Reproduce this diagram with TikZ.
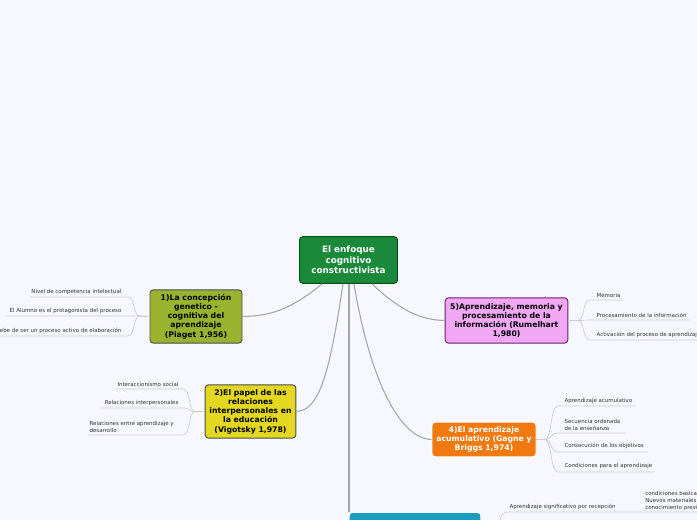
\documentclass[tikz,border=0pt]{standalone}
\usepackage{fontspec}
\setmainfont{DejaVu Sans}
\begin{document}
\begin{tikzpicture}[x=0.75pt,y=-0.75pt,
  mainbox/.style={rounded corners=2.5pt,draw=#1!60!black,line width=0.7pt,align=center,font=\bfseries\fontsize{5.8}{6.9}\selectfont,inner sep=2pt,anchor=center},
  leaf/.style={font=\fontsize{4.1}{5.2}\selectfont,text=black!80,inner sep=1pt,align=left},
  conn/.style={draw=black!35,line width=0.8pt},
  lconn/.style={draw=black!20,line width=0.5pt}]
\clip (0,0) rectangle (697,520);
\fill[blue!3!white] (0,0) rectangle (697,520);
% central
\node[mainbox=green!50!black,fill={rgb,255:red,26;green,138;blue,58},text=white,minimum width=73.5pt,minimum height=35pt,font=\bfseries\fontsize{6.6}{7.8}\selectfont] (c) at (348.5,260) {El enfoque\\cognitivo\\constructivista};
\node[mainbox=black,fill={rgb,255:red,155;green,178;blue,46},minimum width=69pt,minimum height=40pt,draw=black!70] (n1) at (196,316.5) {1)La concepción\\genetico -\\cognitiva del\\aprendizaje\\(Piaget 1,956)};
\node[mainbox=black,fill={rgb,255:red,227;green,216;blue,31},minimum width=68pt,minimum height=40pt,draw=black!70] (n2) at (250.5,411.5) {2)El papel de las\\relaciones\\interpersonales en\\la educación\\(Vigotsky 1,978)};
\node[mainbox=black,fill={rgb,255:red,240;green,168;blue,245},minimum width=92pt,minimum height=34pt,draw={rgb,255:red,110;green,30;blue,110}] (n5) at (506.5,320.5) {5)Aprendizaje, memoria y\\procesamiento de la\\información (Rumelhart\\1,980)};
\node[mainbox=black,fill={rgb,255:red,240;green,122;blue,16},text=white,minimum width=78pt,minimum height=26pt,draw=white] (n4) at (484,439.5) {4)El aprendizaje\\acumulativo (Gagne y\\Briggs 1,974)};
\node[mainbox=black,fill={rgb,255:red,26;green,158;blue,191},text=white,minimum width=97pt,minimum height=30pt,draw=white,anchor=north] (n3) at (415,512) {3)El aprendizaje significativo\\(Ausubel 1,963)};
% main connectors
\draw[conn] (322,284) .. controls (290,310) and (270,316) .. (n1.east);
\draw[conn] (343,284) .. controls (330,370) and (320,411) .. (n2.east);
\draw[conn] (372,284) .. controls (400,310) and (420,320) .. (n5.west);
\draw[conn] (354,284) .. controls (370,380) and (400,439) .. (n4.west);
\draw[conn] (349,284) -- (349,512);
% leaves n1
\foreach \t/\y/\x in {Nivel de competencia intelectual/297/30, El Alumno es el protagonista del proceso/316/5, Debe de ser un proceso activo de elaboración/336/0}{
  \node[leaf,anchor=south east] at (123,\y-1) {\t};
  \draw[lconn] (n1.west) -- (140,316) .. controls (133,316) and (135,\y) .. (128,\y) -- (\x,\y);
}
% leaves n2
\node[leaf,anchor=south east] (l21) at (180,388) {Interaccionismo social};
\node[leaf,anchor=south east] (l22) at (180,407) {Relaciones interpersonales};
\node[leaf,anchor=south west] (l23) at (88,434) {Relaciones entre aprendizaje y\\desarrollo};
\foreach \y/\x in {389/115,408/100,435/88}{
  \draw[lconn] (n2.west) -- (195,411.5) .. controls (188,411.5) and (191,\y) .. (183,\y) -- (\x,\y);}
% leaves n5
\node[leaf,anchor=south west] at (595,299) {Memoria};
\node[leaf,anchor=south west] at (595,319) {Procesamiento de la información};
\node[leaf,anchor=south west] at (595,339) {Activación del proceso de aprendizaje};
\foreach \y/\x in {300/623,320/690,340/697}{
  \draw[lconn] (n5.east) -- (578,320.5) .. controls (585,320.5) and (582,\y) .. (590,\y) -- (\x,\y);}
% leaves n4
\node[leaf,anchor=south west] at (563,405) {Aprendizaje acumulativo};
\node[leaf,anchor=south west] at (563,432) {Secuencia ordenada\\de la enseñanza};
\node[leaf,anchor=south west] at (563,450) {Consecución de los objetivos};
\node[leaf,anchor=south west] at (563,470) {Condiciones para el aprendizaje};
\foreach \y/\x in {406/636,433/625,452/648,472/655}{
  \draw[lconn] (n4.east) -- (545,439.5) .. controls (552,439.5) and (550,\y) .. (558,\y) -- (\x,\y);}
% leaves n3
\node[leaf,anchor=south west] at (508,511) {Aprendizaje significativo por recepción};
\node[leaf,anchor=south west,inner sep=0pt] at (645,511) {condiciones basicas\\Nuevos materiales\\conocimiento previo};
\draw[lconn] (500,525) .. controls (500,515) and (502,512) .. (510,512) -- (697,512);
\end{tikzpicture}
\end{document}
